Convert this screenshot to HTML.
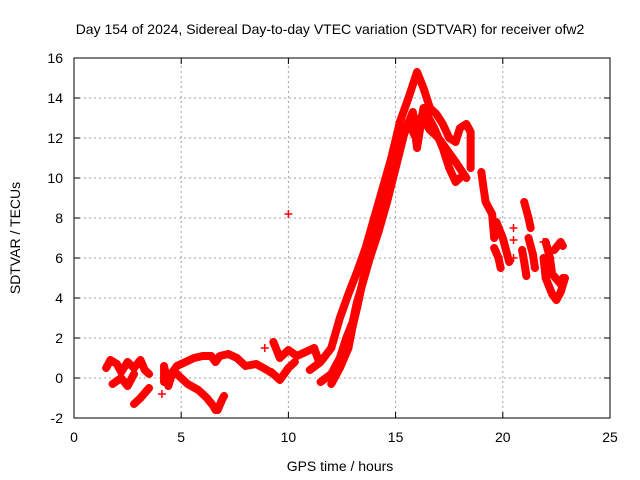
<!DOCTYPE html>
<html><head><meta charset="utf-8"><style>
body{margin:0;background:#fff}
svg{display:block;font-family:"Liberation Sans",sans-serif}
</style></head><body>
<svg id="chart" width="640" height="480" viewBox="0 0 640 480" xmlns="http://www.w3.org/2000/svg">
<rect width="640" height="480" fill="#fff"/>
<text x="330" y="34" font-size="14" text-anchor="middle">Day 154 of 2024, Sidereal Day-to-day VTEC variation (SDTVAR) for receiver ofw2</text>
<text x="340" y="471" font-size="14" text-anchor="middle">GPS time / hours</text>
<text x="20" y="238" font-size="14" text-anchor="middle" transform="rotate(-90 20 238)">SDTVAR / TECUs</text>
<g id="grid"></g><g id="ticks"></g><g id="marks"></g>
<rect x="74" y="58" width="536" height="360" fill="none" stroke="#000" stroke-width="1"/>
</svg>
<script>
const xTicks=[0,5,10,15,20,25];
const yTicks=[-2,0,2,4,6,8,10,12,14,16];
const trackEarlyA=[[1.5,0.5],[1.7,0.9],[2.0,0.7],[2.2,0.3],[2.5,0.8],[2.8,0.5],[3.1,0.9],[3.3,0.4],[3.5,0.2]];
const trackEarlyB=[[1.8,-0.3],[2.2,0.0],[2.5,-0.4],[2.8,0.2]];
const trackEarlyC=[[2.8,-1.3],[3.1,-1.0],[3.5,-0.5]];
const trackEarlyD=[[4.2,-0.2],[4.2,0.6],[4.4,-0.4],[4.6,0.3],[4.8,0.6],[5.2,0.8],[5.6,1.0],[6.0,1.1],[6.4,1.1],[6.6,0.8],[6.8,1.1],[7.2,1.2],[7.6,1.0],[8.0,0.6],[8.5,0.7],[9.0,0.4],[9.3,0.2]];
const trackEarlyE=[[4.8,0.2],[5.3,-0.3],[5.8,-0.6],[6.2,-1.0],[6.5,-1.4],[6.6,-1.6]];
const trackEarlyF=[[6.7,-1.6],[6.9,-1.1],[7.0,-0.9]];
const trackMidA=[[9.3,1.8],[9.6,1.0],[10.0,1.4],[10.4,1.1],[10.8,1.3],[11.2,1.5],[11.4,0.9]];
const trackMidB=[[9.2,0.3],[9.6,-0.1],[10.0,0.5],[10.3,0.8]];
const trackRiseA=[[11.0,0.4],[11.5,0.8],[12.0,1.5],[12.4,3.0],[12.8,4.2],[13.2,5.3],[13.6,6.5],[14.0,8.0],[14.4,9.5],[14.8,11.0],[15.2,12.8],[15.6,14.0],[16.0,15.3],[16.3,14.5],[16.6,13.5],[16.9,13.2],[17.2,12.7],[17.5,12.0],[17.8,11.8],[18.0,12.5],[18.3,12.7],[18.5,12.3],[18.5,10.5]];
const trackRiseB=[[11.5,-0.2],[12.0,0.2],[12.4,1.0],[12.7,2.0],[13.0,2.8],[13.2,3.8],[13.4,4.5],[13.8,6.0],[14.2,7.3],[14.6,8.8],[15.0,10.5],[15.4,12.2],[15.8,13.3],[16.0,11.5],[16.3,13.5],[16.8,12.5],[17.2,11.5],[17.5,10.5],[17.8,9.8],[18.0,10.0]];
const trackRiseC=[[12.0,-0.3],[12.4,0.5],[12.8,1.5],[13.0,2.6],[13.2,3.5],[13.6,5.5],[14.0,7.0],[14.4,8.7],[14.8,10.3],[15.2,11.8],[15.6,12.8],[15.9,12.1],[16.2,13.1],[16.6,12.4],[17.0,12.0],[17.4,11.4],[17.8,10.8],[18.3,10.0]];
const trackLateA=[[19.0,10.3],[19.1,9.5],[19.2,8.8],[19.5,8.2],[19.6,7.0]];
const trackLateB=[[19.7,7.8],[20.0,7.0],[20.2,6.2],[20.3,5.8]];
const trackLateC=[[19.6,6.5],[19.8,6.0],[19.9,5.5]];
const trackLateD=[[21.0,8.8],[21.2,8.0],[21.3,7.5]];
const trackLateE=[[21.2,7.0],[21.4,6.2],[21.5,5.5]];
const trackLateF=[[20.9,6.4],[21.0,5.8],[21.1,5.1]];
const trackLateG=[[22.0,6.8],[22.2,6.0],[22.3,5.2],[22.7,4.7],[22.8,5.0]];
const trackLateH=[[21.9,6.0],[22.0,5.0],[22.3,4.2],[22.5,3.9],[22.7,4.3],[22.9,5.0]];
const trackLateI=[[22.4,6.4],[22.7,6.8],[22.8,6.6]];
const isolated=[[10.0,8.2],[8.9,1.5],[20.5,7.5],[20.5,6.9],[20.5,6.0],[21.9,6.8],[4.1,-0.8]];
const tracks=[trackEarlyA,trackEarlyB,trackEarlyC,trackEarlyD,trackEarlyE,trackEarlyF,trackMidA,trackMidB,trackRiseA,trackRiseB,trackRiseC,trackLateA,trackLateB,trackLateC,trackLateD,trackLateE,trackLateF,trackLateG,trackLateH,trackLateI];

const NS='http://www.w3.org/2000/svg';
const X0=74,X1=610,Y0=418,Y1=58;
const xScale=h=>X0+(h-0)/(25-0)*(X1-X0);
const yScale=v=>Y0-(v-(-2))/(16-(-2))*(Y0-Y1);
const grid=document.getElementById('grid'),ticks=document.getElementById('ticks'),marks=document.getElementById('marks');
function mk(tag,attrs,parent){const e=document.createElementNS(NS,tag);for(const k in attrs)e.setAttribute(k,attrs[k]);parent.appendChild(e);return e;}
xTicks.forEach(t=>{const x=xScale(t);
 if(t>0&&t<25){const g=mk('line',{x1:x,x2:x,y1:Y0,y2:Y1,stroke:'#a0a0a0','stroke-dasharray':'2,3'},grid);
 
 }
 const tk=mk('line',{x1:x,x2:x,y1:Y0,y2:Y0-6,stroke:'#000'},ticks);
 
 
 const tk2=mk('line',{x1:x,x2:x,y1:Y1,y2:Y1+6,stroke:'#000'},ticks);
 
 
 const l=mk('text',{x:x,y:442,'font-size':14,'text-anchor':'middle'},ticks);l.textContent=t;
 
 });
yTicks.forEach(t=>{const y=yScale(t);
 if(t>-2&&t<16){const g=mk('line',{x1:X0,x2:X1,y1:y,y2:y,stroke:'#a0a0a0','stroke-dasharray':'2,3'},grid);
 
 }
 const tk=mk('line',{x1:X0,x2:X0+6,y1:y,y2:y,stroke:'#000'},ticks);
 
 
 const tk2=mk('line',{x1:X1,x2:X1-6,y1:y,y2:y,stroke:'#000'},ticks);
 
 
 const l=mk('text',{x:63,y:y+5,'font-size':14,'text-anchor':'end'},ticks);l.textContent=t;
 
 });
function cross(h,v,parent){const x=xScale(h),y=yScale(v);
 const p=mk('path',{d:`M${x-4},${y}H${x+4}M${x},${y-4}V${y+4}`,stroke:'#f00','stroke-width':1.5},parent);
 
 }
tracks.forEach(tr=>{
 const g=mk('g',{},marks);
 
 
 const pl=mk('polyline',{points:tr.map(p=>xScale(p[0])+','+yScale(p[1])).join(' '),fill:'none',stroke:'#f00','stroke-width':8,'stroke-linejoin':'round','stroke-linecap':'round'},g);
 
 
 tr.forEach(p=>cross(p[0],p[1],g));
});
isolated.forEach(p=>cross(p[0],p[1],marks));
</script>
</body></html>
